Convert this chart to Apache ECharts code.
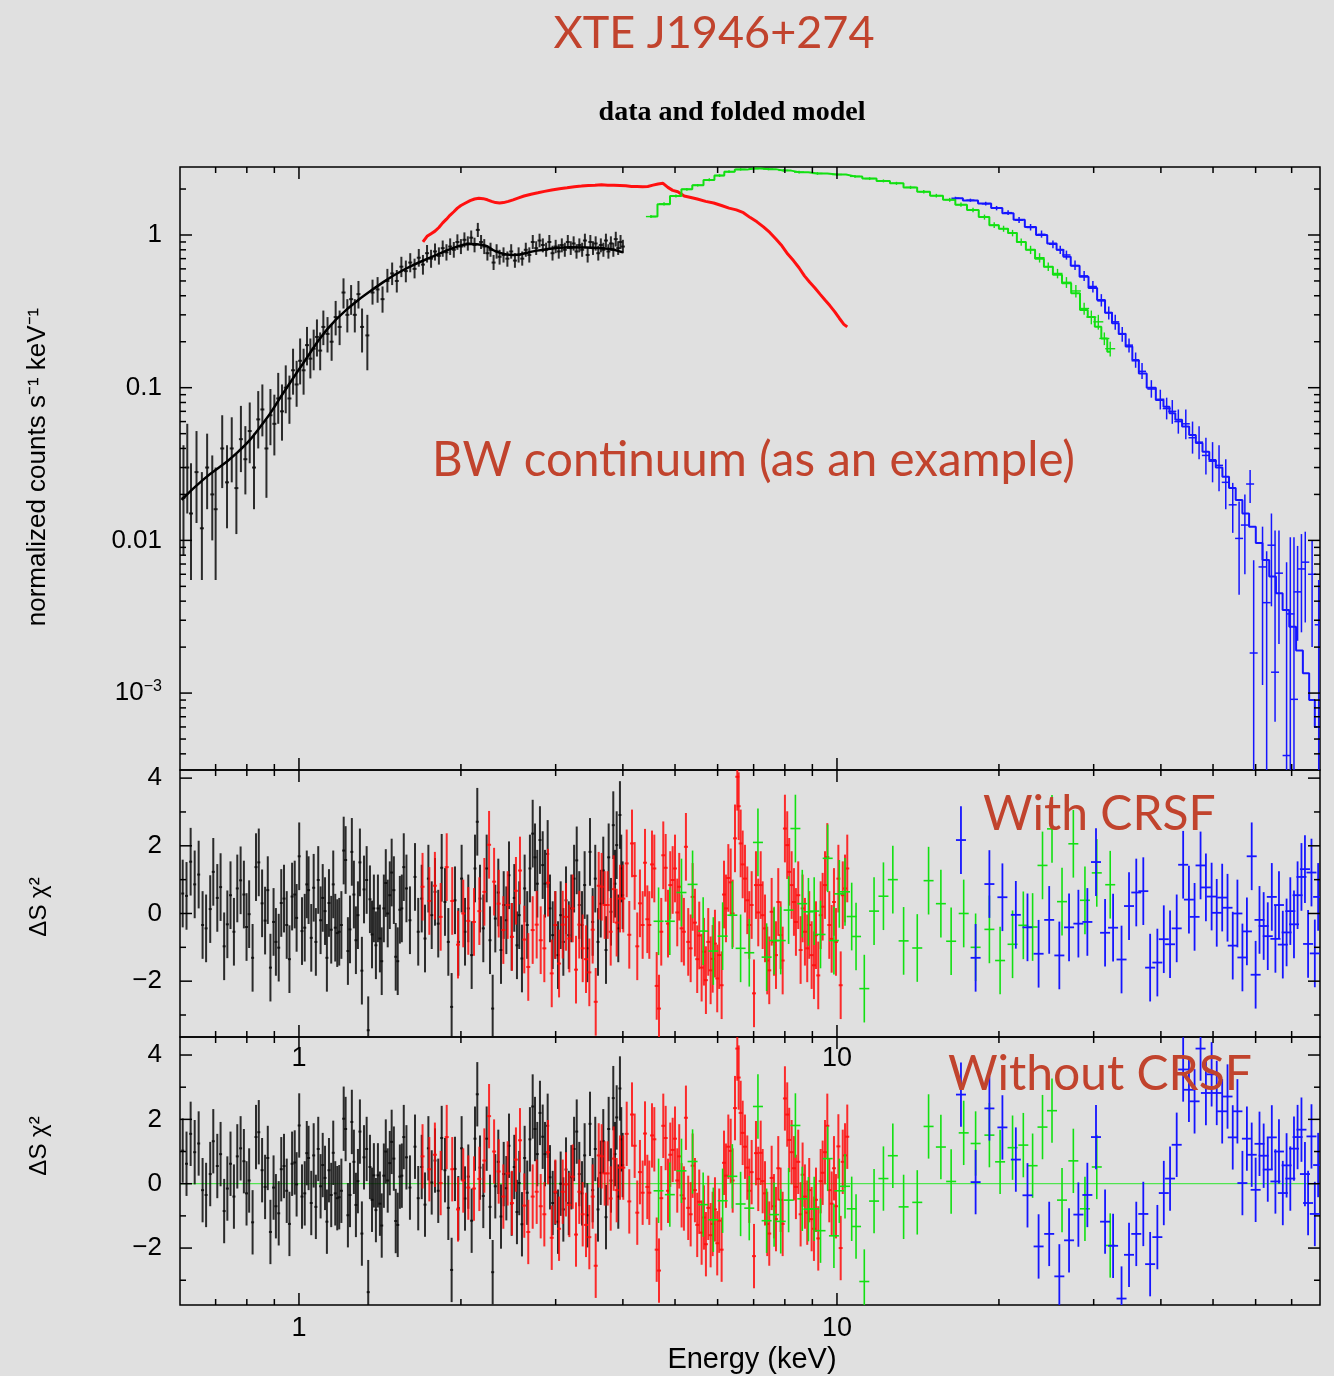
<!DOCTYPE html>
<html>
<head>
<meta charset="utf-8">
<script src="https://cdn.jsdelivr.net/npm/echarts@6.0.0/dist/echarts.min.js"></script>
<style>
html, body { margin: 0; padding: 0; background: #e0e0e0; }
#chart { width: 1334px; height: 1376px; }
</style>
</head>
<body>
<div id="chart"></div>
<script>
// Energy axis (keV) and tick values
var energyMin = 0.601, energyMax = 79.03;
var xMajorTicks = [1, 10];
var xMinorTicks = [0.7, 0.8, 0.9, 2, 3, 4, 5, 6, 7, 8, 9, 20, 30, 40, 50, 60, 70];
var specMin = 3.135e-4, specMax = 2.788;
var specMajorTicks = [0.001, 0.01, 0.1, 1];
var specMinorTicks = [4e-4, 5e-4, 6e-4, 7e-4, 8e-4, 9e-4, 0.002, 0.003, 0.004, 0.005, 0.006, 0.007, 0.008, 0.009,
    0.02, 0.03, 0.04, 0.05, 0.06, 0.07, 0.08, 0.09, 0.2, 0.3, 0.4, 0.5, 0.6, 0.7, 0.8, 0.9, 2];
var resMajorTicks = [-2, 0, 2, 4];
var resMinorTicks = [-3, -1, 1, 3];
var resZero = 0;

// Top panel: black (low energy) folded model and data [E, value, low, high]
var blackModel = [[0.605, 0.0184], [0.663, 0.0249], [0.766, 0.0373], [0.858, 0.0587], [0.935, 0.0923],
    [1.019, 0.145], [1.126, 0.239], [1.244, 0.339], [1.395, 0.459], [1.563, 0.59], [1.802, 0.74],
    [1.95, 0.83], [2.078, 0.873], [2.2, 0.86], [2.33, 0.778], [2.5, 0.74], [2.77, 0.79], [3.19, 0.83],
    [3.68, 0.82], [4.0, 0.77]];
var blackData = [
    [0.61, 0.019, 0.008, 0.042], [0.62, 0.030, 0.015, 0.058], [0.63, 0.015, 0.0055, 0.032], [0.645, 0.028, 0.013, 0.052],
    [0.66, 0.012, 0.0055, 0.028], [0.675, 0.030, 0.016, 0.050], [0.69, 0.020, 0.010, 0.036], [0.70, 0.016, 0.0055, 0.030],
    [0.72, 0.040, 0.022, 0.066], [0.735, 0.024, 0.012, 0.042], [0.75, 0.040, 0.024, 0.064], [0.765, 0.022, 0.011, 0.037],
    [0.78, 0.046, 0.028, 0.076], [0.795, 0.034, 0.020, 0.056], [0.81, 0.052, 0.032, 0.080], [0.825, 0.030, 0.016, 0.050],
    [0.84, 0.062, 0.040, 0.095], [0.855, 0.072, 0.048, 0.105], [0.87, 0.040, 0.019, 0.062], [0.885, 0.066, 0.042, 0.098],
    [0.90, 0.058, 0.036, 0.090], [0.915, 0.085, 0.058, 0.125], [0.93, 0.070, 0.045, 0.105], [0.945, 0.100, 0.068, 0.14],
    [0.96, 0.085, 0.058, 0.12], [0.975, 0.130, 0.090, 0.18], [0.99, 0.105, 0.075, 0.15], [1.005, 0.150, 0.105, 0.21],
    [1.02, 0.130, 0.090, 0.18], [1.035, 0.190, 0.14, 0.25], [1.05, 0.155, 0.115, 0.21], [1.065, 0.180, 0.13, 0.24],
    [1.08, 0.215, 0.16, 0.28], [1.095, 0.175, 0.13, 0.23], [1.11, 0.250, 0.19, 0.32], [1.13, 0.225, 0.17, 0.29],
    [1.15, 0.200, 0.15, 0.26], [1.17, 0.290, 0.22, 0.37], [1.19, 0.250, 0.19, 0.32], [1.21, 0.420, 0.33, 0.52],
    [1.23, 0.300, 0.23, 0.38], [1.25, 0.380, 0.30, 0.47], [1.27, 0.300, 0.23, 0.38], [1.29, 0.410, 0.33, 0.50],
    [1.31, 0.250, 0.17, 0.33], [1.34, 0.220, 0.13, 0.30], [1.37, 0.420, 0.35, 0.51], [1.40, 0.440, 0.36, 0.53],
    [1.43, 0.380, 0.31, 0.46], [1.46, 0.500, 0.42, 0.60], [1.49, 0.560, 0.47, 0.66], [1.52, 0.500, 0.42, 0.59],
    [1.55, 0.620, 0.53, 0.72], [1.58, 0.580, 0.49, 0.68], [1.61, 0.660, 0.57, 0.76], [1.64, 0.600, 0.52, 0.70],
    [1.67, 0.710, 0.62, 0.81], [1.70, 0.640, 0.55, 0.74], [1.73, 0.760, 0.66, 0.86], [1.76, 0.700, 0.61, 0.80],
    [1.79, 0.780, 0.68, 0.88], [1.82, 0.730, 0.64, 0.83], [1.85, 0.820, 0.72, 0.92], [1.88, 0.770, 0.68, 0.87],
    [1.91, 0.840, 0.74, 0.95], [1.94, 0.800, 0.71, 0.90], [1.97, 0.900, 0.80, 1.01], [2.00, 0.840, 0.75, 0.94],
    [2.03, 0.930, 0.83, 1.04], [2.06, 0.880, 0.79, 0.98], [2.09, 0.960, 0.86, 1.07], [2.12, 0.860, 0.77, 0.96],
    [2.15, 1.080, 0.97, 1.20], [2.18, 0.900, 0.81, 1.00], [2.21, 0.840, 0.75, 0.94], [2.24, 0.760, 0.68, 0.85],
    [2.27, 0.800, 0.72, 0.89], [2.30, 0.660, 0.59, 0.74], [2.33, 0.780, 0.70, 0.87], [2.36, 0.720, 0.64, 0.80],
    [2.40, 0.740, 0.66, 0.83], [2.44, 0.700, 0.62, 0.78], [2.48, 0.780, 0.70, 0.87], [2.52, 0.680, 0.61, 0.76],
    [2.56, 0.740, 0.66, 0.83], [2.60, 0.700, 0.63, 0.78], [2.64, 0.800, 0.72, 0.89], [2.68, 0.740, 0.66, 0.83],
    [2.72, 0.900, 0.81, 1.00], [2.76, 0.820, 0.74, 0.91], [2.80, 0.920, 0.83, 1.02], [2.84, 0.860, 0.77, 0.95],
    [2.88, 0.800, 0.72, 0.89], [2.92, 0.900, 0.81, 1.00], [2.96, 0.760, 0.68, 0.85], [3.00, 0.840, 0.76, 0.93],
    [3.04, 0.780, 0.70, 0.87], [3.08, 0.860, 0.77, 0.95], [3.12, 0.800, 0.72, 0.89], [3.16, 0.900, 0.81, 1.00],
    [3.20, 0.820, 0.74, 0.91], [3.24, 0.880, 0.79, 0.98], [3.28, 0.780, 0.70, 0.87], [3.32, 0.860, 0.77, 0.95],
    [3.36, 0.800, 0.72, 0.89], [3.40, 0.920, 0.83, 1.02], [3.44, 0.740, 0.66, 0.83], [3.48, 0.900, 0.81, 1.00],
    [3.52, 0.820, 0.74, 0.91], [3.56, 0.880, 0.79, 0.98], [3.60, 0.760, 0.68, 0.85], [3.64, 0.860, 0.77, 0.95],
    [3.68, 0.800, 0.72, 0.89], [3.72, 0.920, 0.83, 1.02], [3.76, 0.780, 0.70, 0.87], [3.80, 0.880, 0.79, 0.98],
    [3.84, 0.800, 0.72, 0.89], [3.88, 0.940, 0.84, 1.05], [3.92, 0.820, 0.74, 0.91], [3.96, 0.900, 0.81, 1.00],
    [4.00, 0.840, 0.76, 0.93]
];

// Top panel: red (medium energy) data
var redSpectrum = [[1.70, 0.90], [1.73, 0.98], [1.76, 1.02], [1.79, 1.06], [1.82, 1.12], [1.85, 1.20], [1.88, 1.27],
    [1.91, 1.35], [1.94, 1.42], [1.97, 1.50], [2.00, 1.56], [2.04, 1.62], [2.08, 1.68], [2.12, 1.72], [2.16, 1.74],
    [2.20, 1.73], [2.24, 1.70], [2.28, 1.66], [2.32, 1.63], [2.36, 1.62], [2.40, 1.63], [2.45, 1.66], [2.50, 1.70],
    [2.56, 1.75], [2.62, 1.80], [2.70, 1.85], [2.78, 1.89], [2.86, 1.93], [2.95, 1.97], [3.05, 2.01], [3.15, 2.04],
    [3.25, 2.07], [3.35, 2.09], [3.45, 2.11], [3.55, 2.12], [3.65, 2.13], [3.75, 2.12], [3.85, 2.12], [3.95, 2.11],
    [4.05, 2.10], [4.15, 2.08], [4.25, 2.08], [4.35, 2.07], [4.45, 2.08], [4.55, 2.12], [4.65, 2.16], [4.75, 2.18],
    [4.85, 2.05], [4.95, 1.96], [5.06, 1.92], [5.20, 1.80], [5.35, 1.76], [5.50, 1.72], [5.70, 1.66], [5.90, 1.62],
    [6.10, 1.56], [6.30, 1.50], [6.50, 1.46], [6.70, 1.40], [6.90, 1.30], [7.10, 1.22], [7.30, 1.13], [7.50, 1.04],
    [7.70, 0.94], [7.90, 0.85], [8.10, 0.75], [8.30, 0.68], [8.50, 0.61], [8.70, 0.54], [8.90, 0.49], [9.10, 0.45],
    [9.30, 0.41], [9.50, 0.375], [9.70, 0.345], [9.90, 0.315], [10.10, 0.285], [10.30, 0.26], [10.45, 0.25]];

// Top panel: green [E, model, data, low, high]
var greenSpectrum = [
    [4.51, 1.32, 1.32, 1.29, 1.35], [4.77, 1.59, 1.60, 1.56, 1.64], [5.02, 1.80, 1.80, 1.76, 1.84],
    [5.26, 1.99, 1.99, 1.95, 2.03], [5.51, 2.12, 2.12, 2.08, 2.16], [5.79, 2.29, 2.30, 2.25, 2.35],
    [6.05, 2.45, 2.45, 2.40, 2.50], [6.30, 2.60, 2.60, 2.55, 2.65], [6.62, 2.68, 2.69, 2.64, 2.74],
    [7.00, 2.73, 2.72, 2.67, 2.77], [7.45, 2.70, 2.70, 2.65, 2.75], [7.95, 2.64, 2.65, 2.60, 2.70],
    [8.50, 2.58, 2.58, 2.53, 2.63], [9.20, 2.53, 2.53, 2.48, 2.58], [10.0, 2.49, 2.49, 2.44, 2.54],
    [10.8, 2.42, 2.42, 2.37, 2.47], [11.5, 2.34, 2.34, 2.29, 2.39], [12.2, 2.26, 2.26, 2.21, 2.31],
    [12.9, 2.18, 2.18, 2.13, 2.23], [13.7, 2.05, 2.05, 2.00, 2.10], [14.5, 1.92, 1.92, 1.87, 1.97],
    [15.3, 1.81, 1.81, 1.76, 1.86], [16.2, 1.70, 1.70, 1.65, 1.75], [17.0, 1.58, 1.58, 1.53, 1.63],
    [17.9, 1.46, 1.46, 1.41, 1.51], [18.8, 1.31, 1.31, 1.26, 1.36], [19.6, 1.16, 1.16, 1.11, 1.21],
    [20.4, 1.10, 1.10, 1.05, 1.15], [21.2, 1.03, 1.03, 0.98, 1.08], [22.0, 0.90, 0.90, 0.85, 0.95],
    [22.9, 0.80, 0.80, 0.75, 0.85], [23.8, 0.70, 0.71, 0.66, 0.76], [24.7, 0.62, 0.62, 0.58, 0.66],
    [25.7, 0.55, 0.56, 0.52, 0.60], [26.7, 0.483, 0.49, 0.45, 0.53], [27.8, 0.415, 0.43, 0.39, 0.47],
    [28.8, 0.323, 0.33, 0.30, 0.36], [29.7, 0.29, 0.29, 0.26, 0.32], [30.6, 0.251, 0.27, 0.24, 0.30],
    [31.4, 0.21, 0.21, 0.19, 0.23], [32.2, 0.172, 0.18, 0.16, 0.20]
];

// Top panel: blue (high energy) model and data
var blueModel = [[16.6, 1.74], [17.7, 1.68], [18.9, 1.61], [19.8, 1.50], [20.8, 1.39], [21.8, 1.26], [22.9, 1.13],
    [24.0, 1.0], [25.2, 0.88], [26.0, 0.80], [26.7, 0.72], [27.7, 0.63], [28.8, 0.533], [29.9, 0.45], [31.0, 0.375],
    [32.0, 0.31], [32.9, 0.264], [33.9, 0.225], [34.9, 0.186], [35.9, 0.152], [36.9, 0.124], [38.4, 0.10],
    [39.9, 0.083], [41.0, 0.075], [42.0, 0.068], [43.1, 0.0616], [44.5, 0.0556], [45.8, 0.049], [47.1, 0.0434],
    [48.5, 0.038], [49.9, 0.0336], [51.3, 0.030], [52.8, 0.0261], [54.3, 0.022], [55.9, 0.0184], [57.5, 0.015],
    [59.2, 0.0123], [60.9, 0.0096], [62.7, 0.00744], [64.5, 0.0058], [66.4, 0.0045], [68.3, 0.0035],
    [70.3, 0.00272], [72.4, 0.0019], [74.5, 0.00135], [76.4, 0.0009], [78.2, 0.0006]];
var blueData = [
    [16.6, 1.74, 1.70, 1.78], [17.7, 1.69, 1.65, 1.73], [18.9, 1.60, 1.56, 1.65], [19.8, 1.50, 1.45, 1.55],
    [20.8, 1.40, 1.35, 1.45], [21.8, 1.25, 1.20, 1.31], [22.9, 1.12, 1.07, 1.18], [24.0, 1.01, 0.96, 1.07],
    [25.2, 0.87, 0.82, 0.92], [26.0, 0.80, 0.75, 0.85], [26.7, 0.74, 0.69, 0.79], [27.7, 0.63, 0.59, 0.68],
    [28.8, 0.54, 0.50, 0.58], [29.9, 0.46, 0.42, 0.50], [31.0, 0.37, 0.34, 0.41], [32.0, 0.31, 0.28, 0.34],
    [32.9, 0.27, 0.24, 0.30], [33.9, 0.226, 0.20, 0.25], [34.9, 0.19, 0.17, 0.21], [35.9, 0.15, 0.135, 0.17],
    [36.9, 0.128, 0.114, 0.145], [38.4, 0.098, 0.086, 0.112], [39.9, 0.084, 0.072, 0.097], [41.0, 0.073, 0.062, 0.086],
    [42.0, 0.070, 0.058, 0.083], [43.1, 0.060, 0.050, 0.072], [44.5, 0.058, 0.046, 0.072], [45.8, 0.047, 0.037, 0.060],
    [47.1, 0.044, 0.034, 0.056], [48.5, 0.036, 0.027, 0.047], [49.9, 0.033, 0.024, 0.044], [51.3, 0.031, 0.021, 0.042],
    [52.8, 0.024, 0.016, 0.034], [54.4, 0.0171, 0.0112, 0.0238], [55.9, 0.0103, 0.0044, 0.018], [57.3, 0.0126, 0.006, 0.020],
    [58.6, 0.0234, 0.0176, 0.0289], [59.5, 0.00183, 0.0001, 0.0074], [61.8, 0.0067, 0.00113, 0.0123],
    [62.9, 0.00391, 0.0001, 0.0085], [64.2, 0.0093, 0.0037, 0.015], [65.2, 0.00137, 0.00065, 0.0116],
    [66.3, 0.0061, 0.0021, 0.0116], [68.5, 0.00039, 0.0001, 0.0072], [69.6, 0.0033, 0.0001, 0.0105],
    [70.7, 0.00091, 0.0001, 0.0105], [71.8, 0.0046, 0.0022, 0.0092], [73.0, 0.0065, 0.0025, 0.011],
    [74.2, 0.0072, 0.0029, 0.0114], [76.4, 0.006, 0.002, 0.010], [78.6, 0.0028, 0.0001, 0.0055]
];

// Residual panels: bin energies per instrument
var blackE = [0.608, 0.618, 0.629, 0.640, 0.651, 0.662, 0.672, 0.684, 0.693, 0.705,
    0.715, 0.726, 0.736, 0.746, 0.757, 0.768, 0.779, 0.790, 0.799, 0.808,
    0.820, 0.832, 0.842, 0.854, 0.865, 0.875, 0.885, 0.897, 0.906, 0.917,
    0.927, 0.938, 0.949, 0.960, 0.971, 0.982, 0.990, 1.001, 1.013, 1.025,
    1.034, 1.042, 1.054, 1.065, 1.075, 1.086, 1.097, 1.107, 1.118, 1.127,
    1.137, 1.148, 1.158, 1.168, 1.178, 1.188, 1.199, 1.211, 1.221, 1.233,
    1.244, 1.254, 1.265, 1.276, 1.287, 1.298, 1.309, 1.321, 1.336, 1.345,
    1.355, 1.367, 1.378, 1.390, 1.402, 1.414, 1.425, 1.438, 1.450, 1.462,
    1.475, 1.487, 1.501, 1.513, 1.526, 1.540, 1.553, 1.566, 1.584,
    1.608, 1.643, 1.666, 1.691, 1.715, 1.740, 1.765, 1.790, 1.815, 1.842,
    1.868, 1.895, 1.922, 1.950, 1.978, 2.006, 2.035, 2.064, 2.094, 2.124,
    2.145, 2.170, 2.201, 2.233, 2.265, 2.291, 2.317, 2.347, 2.374, 2.402,
    2.429, 2.457, 2.485, 2.513, 2.542, 2.567, 2.597, 2.627, 2.656, 2.687,
    2.719, 2.746, 2.773, 2.805, 2.838, 2.866, 2.899, 2.928, 2.962, 2.995,
    3.030, 3.065, 3.100, 3.136, 3.173, 3.208, 3.246, 3.283, 3.319, 3.358,
    3.396, 3.435, 3.475, 3.515, 3.554, 3.596, 3.638, 3.678, 3.721, 3.764,
    3.801, 3.839, 3.867, 3.895, 3.922, 3.950, 3.972, 3.996];
var redE = [1.697, 1.747, 1.789, 1.834, 1.882, 1.927, 1.975, 2.020, 2.064, 2.115,
    2.164, 2.211, 2.256, 2.305, 2.351, 2.398, 2.443, 2.488, 2.531, 2.575,
    2.623, 2.668, 2.719, 2.766, 2.814, 2.858, 2.903, 2.950, 2.996, 3.044,
    3.092, 3.136, 3.181, 3.227, 3.273, 3.319, 3.368, 3.416, 3.465, 3.515,
    3.561, 3.607, 3.653, 3.700, 3.748, 3.797, 3.845, 3.895, 3.951, 4.007,
    4.066, 4.111, 4.159, 4.207, 4.254, 4.303, 4.353, 4.397, 4.441, 4.479,
    4.531, 4.576, 4.623, 4.669, 4.714, 4.755, 4.804, 4.852, 4.899, 4.950,
    4.999, 5.048, 5.091, 5.143, 5.194, 5.239, 5.291, 5.346, 5.391, 5.445,
    5.498, 5.546, 5.603, 5.659, 5.707, 5.764, 5.823, 5.874, 5.932, 5.990,
    6.041, 6.104, 6.166, 6.218, 6.281, 6.345, 6.399, 6.463, 6.527, 6.566,
    6.622, 6.679, 6.745, 6.812, 6.871, 6.941, 7.010, 7.070, 7.140, 7.214,
    7.276, 7.348, 7.420, 7.484, 7.561, 7.636, 7.702, 7.778, 7.857, 7.926,
    8.003, 8.082, 8.151, 8.236, 8.318, 8.389, 8.472, 8.559, 8.632, 8.718,
    8.805, 8.880, 8.972, 9.061, 9.141, 9.230, 9.326, 9.406, 9.500, 9.594,
    9.676, 9.775, 9.872, 9.957, 10.06, 10.16, 10.25, 10.35, 10.45];
var greenE = [4.66, 4.89, 5.14, 5.39, 5.64, 5.89, 6.13, 6.39, 6.62, 6.87,
    7.13, 7.40, 7.64, 7.86, 8.13, 8.37, 8.62, 8.85, 9.07, 9.32,
    9.61, 9.87, 10.1, 10.35, 10.65, 10.85, 11.24, 11.72, 12.2, 12.7,
    13.3, 14.1, 14.8, 15.6, 16.3, 17.2, 18.1, 19.2, 20.1, 21.2,
    22.2, 23.1, 24.1, 25.1, 26.2, 27.5, 28.9, 30.4, 32.2];
var blueE = [17.0, 18.1, 19.2, 20.3, 21.5, 22.6, 23.7, 24.8, 25.9, 27.0,
    28.1, 29.2, 30.3, 31.5, 32.6, 33.8, 34.9, 36.0, 37.1, 38.2,
    39.4, 40.5, 41.6, 42.8, 44.0, 45.1, 46.2, 47.4, 48.5, 49.7,
    50.8, 52.0, 53.2, 54.4, 55.5, 56.7, 57.8, 59.0, 60.0, 61.0,
    62.1, 63.2, 64.3, 65.3, 66.3, 67.4, 68.5, 69.6, 70.7, 71.8,
    73.0, 74.1, 75.1, 76.2, 77.3, 78.4];

// Residuals, model with CRSF
var blackResWith = [0.59, 0.52, 1.53, 0.86, 1.15, -0.34, -0.44, 0.13, 1.23, 0.46,
    0.78, -0.97, -0.32, 0.54, -0.54, 0.74, 0.98, 0.56, -0.40, -0.02,
    -1.31, 1.37, 1.51, 0.30, -0.21, 0.69, -1.60, -0.25, -0.84, -1.01,
    0.31, 0.44, -0.34, -1.35, 0.50, 0.56, -0.13, 1.69, -0.52, -0.42,
    0.86, 0.69, -0.72, 0.76, -0.84, 0.99, -0.20, 0.46, 0.07, -1.31,
    0.31, -0.48, 0.86, -0.42, -0.58, -0.54, -0.34, 1.86, 1.58, -1.11,
    -0.47, 1.82, 0.56, -0.79, -0.05, 1.51, -1.69, 0.71, 0.99, -3.45,
    0.42, -0.62, 0.15, -0.94, 0.15, -0.74, -1.41, 0.15, 0.90, 0.00,
    0.54, 1.21, 0.69, -1.28, -1.41, 0.11, 0.15, 1.37, 0.74,
    -0.20, 1.08, -0.54, 0.44, -0.74, 1.03, -0.05, 0.64, -0.30, 1.35,
    0.34, -0.84, -2.76, 0.39, -0.84, 1.03, -0.54, 0.15, -1.23, 1.33,
    2.71, 0.44, -0.44, 1.33, -0.79, -2.81, -0.15, 0.62, -1.08, 0.25,
    -0.20, 1.13, -0.69, 0.46, -0.94, -0.05, -1.33, 0.74, -0.34, 1.33,
    2.36, 1.66, 0.88, 2.17, 1.43, 0.88, 1.76, 0.15, -0.64, -0.34,
    -1.23, -0.05, -0.84, 0.39, -0.64, 0.15, 1.03, 1.57, 0.25, -0.34,
    0.84, -1.03, 1.82, -0.25, 1.03, -0.84, 0.29, 1.27, -1.08, 1.66,
    0.05, 2.61, 0.88, 2.02, -0.44, 2.91, 1.33, 0.54];
var redResWith = [0.79, 0.37, 0.82, -0.10, 1.37, 0.37, -0.92, 0.00, -0.22, -0.25,
    0.07, 0.64, 2.03, 0.94, 0.29, -0.49, 0.25, -0.69, 0.67, 1.27,
    -0.77, -1.58, -0.49, -0.33, -0.79, -1.03, 0.91, -1.77, -0.34, -1.48,
    -0.33, -0.10, -0.74, 0.15, -1.66, -0.33, -1.03, -1.35, -1.74, -0.48,
    -2.61, 0.82, 0.79, 0.25, 0.25, -0.54, 0.72, -0.27, 0.44, 0.44,
    1.48, -0.63, 2.07, 1.11, -0.97, 0.30, -0.34, 1.50, -0.17, -0.34,
    1.45, 1.33, -2.14, -2.81, -0.54, 1.72, 1.35, -0.30, 0.84, 0.99,
    1.33, 0.03, 0.79, -0.44, -0.54, 1.97, -0.84, -1.03, 0.49, -0.27,
    -1.35, -0.65, -1.60, -1.13, -1.97, -0.84, -1.68, -1.34, -0.89, -1.92,
    -1.23, -2.12, 0.56, 0.15, 1.05, 0.92, 0.00, 2.22, 4.04, 3.17,
    2.07, 1.45, 1.03, 0.39, -0.34, 0.25, -2.36, 0.84, 0.03, 0.84,
    -0.05, -0.44, -1.39, -1.68, 0.05, -0.84, -1.23, 0.34, -0.64, -1.39,
    2.51, 2.02, 1.23, 0.84, 0.34, -0.25, 0.54, -1.08, 0.15, -0.54,
    -1.03, -0.34, -1.23, -1.53, -0.64, -1.83, -0.05, 0.20, 0.84, 1.67,
    -0.34, -0.75, 0.34, -0.84, 1.03, -2.12, 0.54, 0.74, 1.33];
var greenResWith = [-0.23, -0.23, 0.62, 0.86, -0.52, -1.11, -0.67, -0.05, -1.03, -1.16,
    2.10, -1.29, -0.80, -0.80, 0.10, 2.51, 0.29, 0.05, 0.07, -0.62,
    1.63, -0.80, 0.58, 0.64, -0.09, -0.68, -2.22, 0.07, 0.51, 1.00,
    -0.81, -1.02, 0.97, 0.29, -0.82, 0.00, -1.00, -0.47, -1.39, -0.91,
    -0.35, -0.40, 1.42, 2.50, 0.35, 2.06, 0.39, 1.20, 0.85];
var blueResWith = [2.17, -1.31, 0.87, 0.48, -0.04, -0.41, -1.19, -0.19, -1.24, -0.41,
    -0.30, -0.25, 1.52, -0.57, -0.42, -1.36, 0.22, 0.62, 0.66, -1.60,
    -1.45, -0.76, -0.91, -0.44, 1.44, 0.41, -0.10, 1.42, 0.77, 0.50,
    0.02, 0.47, 0.17, -0.95, 0.00, -1.30, -0.53, 1.69, -1.81, -0.19,
    -0.37, -0.67, 0.49, -0.75, 0.25, -0.92, -0.56, 0.07, -0.32, 0.54,
    1.08, 1.31, -0.90, 1.21, -1.18, 0.49];

// Residuals, model without CRSF
var blackResWithout = [1.03, 0.62, 1.55, 0.98, 1.25, -0.20, -0.35, 0.30, 1.32, 0.55,
    0.92, -0.85, -0.15, 0.62, -0.40, 0.85, 1.10, 0.70, -0.30, 0.10,
    -1.20, 1.45, 1.60, 0.42, -0.10, 0.80, -1.50, -0.12, -0.70, -0.92,
    0.45, 0.55, -0.22, -1.25, 0.62, 0.66, -0.02, 1.81, -0.40, -0.30,
    0.95, 0.80, -0.60, 0.88, -0.72, 1.08, -0.08, 0.58, 0.18, -1.18,
    0.42, -0.35, 0.96, -0.30, -0.45, -0.42, -0.22, 2.02, 1.70, -0.98,
    -0.35, 1.92, 0.68, -0.66, 0.08, 1.62, -1.55, 0.82, 1.08, -3.37,
    0.52, -0.50, 0.26, -0.82, 0.26, -0.62, -1.30, 0.25, 1.00, 0.10,
    0.64, 1.30, 0.78, -1.16, -1.28, 0.22, 0.25, 1.45, 0.82,
    -0.12, 1.15, -0.45, 0.52, -0.65, 1.10, 0.04, 0.72, -0.22, 1.42,
    0.42, -0.75, -2.68, 0.46, -0.76, 1.10, -0.46, 0.22, -1.15, 1.40,
    2.78, 0.50, -0.38, 1.40, -0.72, -2.75, -0.08, 0.68, -1.02, 0.30,
    -0.14, 1.18, -0.62, 0.52, -0.88, 0.02, -1.26, 0.80, -0.28, 1.38,
    2.40, 1.70, 0.92, 2.20, 1.46, 0.92, 1.80, 0.20, -0.60, -0.28,
    -1.18, 0.00, -0.80, 0.44, -0.60, 0.20, 1.08, 1.62, 0.30, -0.30,
    0.88, -0.98, 1.86, -0.20, 1.08, -0.80, 0.34, 1.32, -1.04, 1.70,
    0.10, 2.66, 0.92, 2.06, -0.40, 2.96, 1.38, 0.58];
var redResWithout = [0.85, 0.45, 0.90, 0.02, 1.45, 0.45, -0.80, 0.10, -0.12, -0.15,
    0.15, 0.72, 2.10, 1.00, 0.38, -0.40, 0.32, -0.60, 0.75, 1.35,
    -0.68, -1.50, -0.40, -0.25, -0.70, -0.95, 0.98, -1.68, -0.25, -1.40,
    -0.25, -0.02, -0.66, 0.22, -1.58, -0.25, -0.95, -1.28, -1.66, -0.40,
    -2.55, 0.88, 0.85, 0.32, 0.32, -0.46, 0.78, -0.20, 0.50, 0.50,
    1.55, -0.55, 2.15, 1.18, -0.90, 0.36, -0.28, 1.56, -0.10, -0.28,
    1.50, 1.38, -2.05, -2.70, -0.45, 1.80, 1.42, -0.22, 0.90, 1.05,
    1.40, 0.10, 0.85, -0.36, -0.46, 2.05, -0.75, -0.95, 0.56, -0.20,
    -1.28, -0.56, -1.52, -1.05, -1.88, -0.75, -1.60, -1.25, -0.80, -1.85,
    -1.15, -2.05, 0.65, 0.25, 1.15, 1.02, 0.10, 2.35, 4.20, 3.30,
    2.20, 1.58, 1.15, 0.50, -0.22, 0.36, -2.25, 0.95, 0.15, 0.96,
    0.08, -0.30, -1.25, -1.55, 0.18, -0.70, -1.10, 0.48, -0.50, -1.25,
    2.65, 2.15, 1.36, 0.98, 0.48, -0.10, 0.68, -0.95, 0.28, -0.40,
    -0.90, -0.20, -1.10, -1.40, -0.50, -1.70, 0.08, 0.34, 0.98, 1.80,
    -0.20, -0.62, 0.48, -0.70, 1.16, -2.00, 0.68, 0.88, 1.46];
var greenResWithout = [-0.22, -0.34, 0.40, 0.69, -0.65, -1.12, -0.53, 0.23, -0.63, -0.76,
    2.40, -1.15, -0.96, -1.17, -0.51, 1.81, -0.47, -0.79, -0.78, -1.46,
    0.78, -1.62, -0.22, -0.08, -0.78, -1.33, -3.04, -0.54, 0.16, 0.87,
    -0.72, -0.58, 1.78, 1.14, 0.07, 1.58, 1.25, 1.51, 0.68, 1.12,
    1.20, 0.56, 1.76, 2.27, -0.51, 0.71, -0.78, 0.52, -1.92];
var blueResWithout = [2.77, 0.05, 2.34, 1.75, 0.75, -0.36, -1.95, -1.56, -2.88, -1.76,
    -0.96, -0.35, 1.45, -1.18, -1.93, -3.57, -2.21, -1.56, -0.94, -2.50,
    -1.66, -0.29, 0.16, 1.21, 3.55, 2.92, 2.56, 4.20, 2.82, 3.40,
    2.82, 2.25, 2.71, 1.44, 2.25, 0.02, 1.40, 0.90, -0.19, 1.24,
    0.87, 0.44, 1.44, 0.07, 1.00, -0.29, 0.57, 0.16, 1.09, 1.45,
    1.68, 0.30, -0.60, 1.47, -0.94, 0.58];

var RES_ERR = 1; // delta-chi residual bars are +/- 1

// ---- styles ----
var COL_BLACK = 'rgba(10,10,10,0.85)';
var COL_RED = 'rgba(255,10,10,0.85)';
var COL_GREEN = '#12e012';
var COL_BLUE = '#1515ff';
var TEXT_RED = '#c1432d';

var myChart = echarts.init(document.getElementById('chart'));

function errBars(color, capHalf, lw) {
    return function (params, api) {
        var p = api.coord([api.value(0), api.value(1)]);
        var a = api.coord([api.value(0), api.value(2)]);
        var b = api.coord([api.value(0), api.value(3)]);
        return {
            type: 'group',
            children: [
                { type: 'line', shape: { x1: p[0], y1: a[1], x2: p[0], y2: b[1] }, style: { stroke: color, lineWidth: lw } },
                { type: 'line', shape: { x1: p[0] - capHalf, y1: p[1], x2: p[0] + capHalf, y2: p[1] }, style: { stroke: color, lineWidth: lw } }
            ]
        };
    };
}

function residualRows(energies, res) {
    return energies.map(function (e, i) {
        return [e, res[i], res[i] - RES_ERR, res[i] + RES_ERR];
    });
}

function tickSeries(grid, dir, major, minor, ref) {
    var data = [];
    major.forEach(function (v) { data.push(dir === 'x' ? [v, ref, 12] : [ref, v, 12]); });
    minor.forEach(function (v) { data.push(dir === 'x' ? [v, ref, 6] : [ref, v, 6]); });
    return {
        type: 'custom',
        xAxisIndex: grid,
        yAxisIndex: grid,
        silent: true,
        z: 10,
        data: data,
        renderItem: function (params, api) {
            var cs = params.coordSys;
            var p = api.coord([api.value(0), api.value(1)]);
            var len = api.value(2);
            var st = { stroke: '#000', lineWidth: 1.5 };
            if (dir === 'x') {
                return {
                    type: 'group', children: [
                        { type: 'line', shape: { x1: p[0], y1: cs.y, x2: p[0], y2: cs.y + len }, style: st },
                        { type: 'line', shape: { x1: p[0], y1: cs.y + cs.height, x2: p[0], y2: cs.y + cs.height - len }, style: st }
                    ]
                };
            }
            return {
                type: 'group', children: [
                    { type: 'line', shape: { x1: cs.x, y1: p[1], x2: cs.x + len, y2: p[1] }, style: st },
                    { type: 'line', shape: { x1: cs.x + cs.width, y1: p[1], x2: cs.x + cs.width - len, y2: p[1] }, style: st }
                ]
            };
        }
    };
}

function errSeries(grid, rows, color, capHalf, lw) {
    return {
        type: 'custom',
        xAxisIndex: grid,
        yAxisIndex: grid,
        silent: true,
        clip: true,
        data: rows,
        renderItem: errBars(color, capHalf, lw)
    };
}

var labelFont = { color: '#000', fontSize: 26, fontFamily: 'Liberation Sans' };

function xAxisFor(i) {
    return {
        type: 'log', logBase: 10, gridIndex: i, min: energyMin, max: energyMax,
        axisLine: { show: false }, axisTick: { show: false }, splitLine: { show: false },
        axisLabel: { show: i > 0, margin: i === 1 ? 8 : 10, fontSize: 27, color: '#000', fontFamily: 'Liberation Sans', showMinLabel: false, showMaxLabel: false }
    };
}

function resAxis(i, min, max) {
    return {
        type: 'value', gridIndex: i, min: min, max: max,
        axisLine: { show: false }, axisTick: { show: false }, splitLine: { show: false },
        axisLabel: Object.assign({
            margin: 18, customValues: resMajorTicks,
            formatter: function (v) { return v < 0 ? '\u2212' + (-v) : String(v); }
        }, labelFont)
    };
}

var option = {
    backgroundColor: '#e0e0e0',
    animation: false,
    grid: [
        { left: 180, top: 167, width: 1140, height: 603, show: true, borderColor: '#000', borderWidth: 1.5, backgroundColor: 'transparent' },
        { left: 180, top: 770, width: 1140, height: 267, show: true, borderColor: '#000', borderWidth: 1.5, backgroundColor: 'transparent' },
        { left: 180, top: 1037, width: 1140, height: 268, show: true, borderColor: '#000', borderWidth: 1.5, backgroundColor: 'transparent' }
    ],
    xAxis: [xAxisFor(0), xAxisFor(1), xAxisFor(2)],
    yAxis: [
        {
            type: 'log', logBase: 10, gridIndex: 0, min: specMin, max: specMax,
            axisLine: { show: false }, axisTick: { show: false }, splitLine: { show: false },
            axisLabel: Object.assign({
                margin: 18, showMinLabel: false, showMaxLabel: false,
                formatter: function (v) {
                    if (Math.abs(v - 0.001) < 1e-9) return '{b|10}{s|\u22123}';
                    return String(v);
                },
                rich: {
                    b: { fontSize: 26, fontFamily: 'Liberation Sans', color: '#000' },
                    s: { fontSize: 16, fontFamily: 'Liberation Sans', color: '#000', padding: [0, 0, 12, 0] }
                }
            }, labelFont)
        },
        resAxis(1, -3.65, 4.24),
        resAxis(2, -3.77, 4.56)
    ],
    graphic: [
        { type: 'text', x: 714, y: 33, style: { text: 'XTE J1946+274', font: '45px Lato', fill: TEXT_RED, align: 'center', verticalAlign: 'middle', textAlign: 'center', textVerticalAlign: 'middle' } },
        { type: 'text', x: 732, y: 113, style: { text: 'data and folded model', font: 'bold 28px "Liberation Serif"', fill: '#000', align: 'center', verticalAlign: 'middle', textAlign: 'center', textVerticalAlign: 'middle' } },
        { type: 'text', x: 38, y: 467, rotation: Math.PI / 2, style: { text: 'normalized counts s\u207B\u00B9 keV\u207B\u00B9', font: '26px "Liberation Sans"', fill: '#000', align: 'center', verticalAlign: 'middle', textAlign: 'center', textVerticalAlign: 'middle' } },
        { type: 'text', x: 39, y: 907, rotation: Math.PI / 2, style: { text: '\u0394S \u03C7\u00B2', font: '24px "Liberation Sans"', fill: '#000', align: 'center', verticalAlign: 'middle', textAlign: 'center', textVerticalAlign: 'middle' } },
        { type: 'text', x: 39, y: 1146, rotation: Math.PI / 2, style: { text: '\u0394S \u03C7\u00B2', font: '24px "Liberation Sans"', fill: '#000', align: 'center', verticalAlign: 'middle', textAlign: 'center', textVerticalAlign: 'middle' } },
        { type: 'text', x: 752, y: 1360, style: { text: 'Energy (keV)', font: '29px "Liberation Sans"', fill: '#000', align: 'center', verticalAlign: 'middle', textAlign: 'center', textVerticalAlign: 'middle' } },
        { type: 'text', x: 432, y: 461, z: 100, style: { text: 'BW continuum (as an example)', font: '47.5px Lato', fill: TEXT_RED, align: 'left', verticalAlign: 'middle', textAlign: 'left', textVerticalAlign: 'middle' } },
        { type: 'text', x: 983, y: 815, z: 100, style: { text: 'With CRSF', font: '48px Lato', fill: TEXT_RED, align: 'left', verticalAlign: 'middle', textAlign: 'left', textVerticalAlign: 'middle' } },
        { type: 'text', x: 948, y: 1075, z: 100, style: { text: 'Without CRSF', font: '48px Lato', fill: TEXT_RED, align: 'left', verticalAlign: 'middle', textAlign: 'left', textVerticalAlign: 'middle' } }
    ],
    series: [
        // ticks
        tickSeries(0, 'x', xMajorTicks, xMinorTicks, 1),
        tickSeries(0, 'y', specMajorTicks, specMinorTicks, 1),
        tickSeries(1, 'x', xMajorTicks, xMinorTicks, 0),
        tickSeries(1, 'y', resMajorTicks, resMinorTicks, 1),
        tickSeries(2, 'x', xMajorTicks, xMinorTicks, 0),
        tickSeries(2, 'y', resMajorTicks, resMinorTicks, 1),

        // top panel
        errSeries(0, blackData, COL_BLACK, 2, 2),
        {
            type: 'line', xAxisIndex: 0, yAxisIndex: 0, data: blackModel, smooth: true, showSymbol: false,
            lineStyle: { color: '#000', width: 2.5 }, silent: true, z: 3
        },
        {
            type: 'line', xAxisIndex: 0, yAxisIndex: 0, data: redSpectrum, showSymbol: false,
            lineStyle: { color: '#ff1010', width: 3 }, silent: true, z: 3
        },
        {
            type: 'line', xAxisIndex: 0, yAxisIndex: 0, step: 'middle', showSymbol: false, silent: true, z: 3,
            data: greenSpectrum.map(function (r) { return [r[0], r[1]]; }),
            lineStyle: { color: COL_GREEN, width: 2 }
        },
        errSeries(0, greenSpectrum.map(function (r) { return [r[0], r[2], r[3], r[4]]; }), COL_GREEN, 5, 1.4),
        {
            type: 'line', xAxisIndex: 0, yAxisIndex: 0, step: 'middle', showSymbol: false, silent: true, z: 3,
            data: blueModel, lineStyle: { color: COL_BLUE, width: 2 }
        },
        errSeries(0, blueData, COL_BLUE, 4, 1.5),

        // residuals with CRSF
        errSeries(1, residualRows(blackE, blackResWith), COL_BLACK, 1.5, 2),
        errSeries(1, residualRows(redE, redResWith), COL_RED, 2, 2),
        errSeries(1, residualRows(greenE, greenResWith), COL_GREEN, 5, 1.6),
        errSeries(1, residualRows(blueE, blueResWith), COL_BLUE, 5, 1.8),

        // residuals without CRSF, with the zero reference line
        {
            type: 'custom', xAxisIndex: 2, yAxisIndex: 2, silent: true, z: 1,
            data: [[1, resZero]],
            renderItem: function (params, api) {
                var cs = params.coordSys;
                var y = api.coord([api.value(0), api.value(1)])[1];
                return { type: 'line', shape: { x1: cs.x, y1: y, x2: cs.x + cs.width, y2: y }, style: { stroke: '#2ee62e', lineWidth: 1 } };
            }
        },
        errSeries(2, residualRows(blackE, blackResWithout), COL_BLACK, 1.5, 2),
        errSeries(2, residualRows(redE, redResWithout), COL_RED, 2, 2),
        errSeries(2, residualRows(greenE, greenResWithout), COL_GREEN, 5, 1.6),
        errSeries(2, residualRows(blueE, blueResWithout), COL_BLUE, 5, 1.8)
    ]
};

myChart.setOption(option);
</script>
</body>
</html>
